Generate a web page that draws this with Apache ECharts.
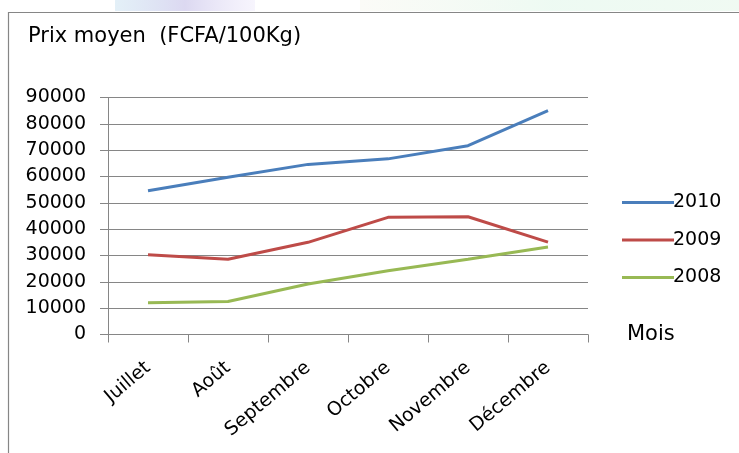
<!DOCTYPE html>
<html>
<head>
<meta charset="utf-8">
<script src="https://cdn.jsdelivr.net/npm/echarts@6/dist/echarts.min.js"></script>
<style>
html,body{margin:0;padding:0;background:#fff;}
#c{width:739px;height:453px;}
</style>
</head>
<body>
<div id="c"></div>
<script>
var months = ['Juillet', 'Août', 'Septembre', 'Octobre', 'Novembre', 'Décembre'];
var y2010 = [54600, 59700, 64600, 66700, 71700, 85000];
var y2009 = [30300, 28600, 35000, 44500, 44700, 35100];
var y2008 = [12100, 12500, 19200, 24200, 28600, 33200];
var seriesNames = ['2010', '2009', '2008'];
var yTitle = 'Prix moyen  (FCFA/100Kg)';
var xTitle = 'Mois';

var FONT = 'DejaVu Sans';
var chart = echarts.init(document.getElementById('c'), null, {renderer: 'canvas'});
chart.setOption({
  backgroundColor: '#ffffff',
  animation: false,
  graphic: [
    {type: 'rect', shape: {x: 115, y: 0, width: 140, height: 11}, style: {fill: new echarts.graphic.LinearGradient(0, 0, 1, 0, [
      {offset: 0, color: 'rgba(200,225,240,0.5)'}, {offset: 0.5, color: 'rgba(205,200,235,0.7)'}, {offset: 1, color: 'rgba(235,230,250,0.4)'}])}, silent: true},
    {type: 'rect', shape: {x: 360, y: 0, width: 379, height: 11}, style: {fill: new echarts.graphic.LinearGradient(0, 0, 1, 0, [
      {offset: 0, color: 'rgba(245,245,235,0.4)'}, {offset: 0.5, color: 'rgba(220,245,230,0.5)'}, {offset: 1, color: 'rgba(225,245,230,0.5)'}])}, silent: true},
    {type: 'rect', shape: {x: 8.5, y: 12.5, width: 740, height: 450}, style: {fill: null, stroke: '#868686', lineWidth: 1.2}, silent: true},
    {type: 'text', left: 28, top: 26, style: {text: yTitle, font: '21px "' + FONT + '"', fill: '#000'}},
    {type: 'text', left: 627, top: 324, style: {text: xTitle, font: '21px "' + FONT + '"', fill: '#000'}}
  ],
  grid: {left: 108, top: 97.5, right: 151, bottom: 118.5, containLabel: false},
  legend: {
    orient: 'vertical',
    left: 617,
    top: 188,
    data: seriesNames,
    itemWidth: 52,
    itemHeight: 19,
    itemGap: 18.5,
    textStyle: {fontFamily: FONT, fontSize: 19, color: '#000', padding: [0, 0, 0, -6]},
    icon: 'path://M0,8 L52,8 L52,11 L0,11 Z'
  },
  xAxis: {
    type: 'category',
    data: months,
    boundaryGap: true,
    axisLine: {show: true, lineStyle: {color: '#868686', width: 1}},
    axisTick: {show: true, length: 8, alignWithLabel: false, lineStyle: {color: '#868686'}},
    axisLabel: {rotate: 40, margin: 31, fontFamily: FONT, fontSize: 19, color: '#000', interval: 0},
    splitLine: {show: false}
  },
  yAxis: {
    type: 'value',
    min: 0,
    max: 90000,
    interval: 10000,
    axisLine: {show: true, lineStyle: {color: '#868686', width: 1}},
    axisTick: {show: true, length: 8, lineStyle: {color: '#868686'}},
    axisLabel: {margin: 22, fontFamily: FONT, fontSize: 19, color: '#000', formatter: function (v) { return String(v); }},
    splitLine: {show: true, lineStyle: {color: '#868686', width: 1}}
  },
  series: [
    {name: '2010', type: 'line', data: y2010, symbol: 'none', lineStyle: {width: 3, color: '#4A7EBB'}, itemStyle: {color: '#4A7EBB'}},
    {name: '2009', type: 'line', data: y2009, symbol: 'none', lineStyle: {width: 3, color: '#BE4B48'}, itemStyle: {color: '#BE4B48'}},
    {name: '2008', type: 'line', data: y2008, symbol: 'none', lineStyle: {width: 3, color: '#98B954'}, itemStyle: {color: '#98B954'}}
  ]
});
</script>
</body>
</html>
